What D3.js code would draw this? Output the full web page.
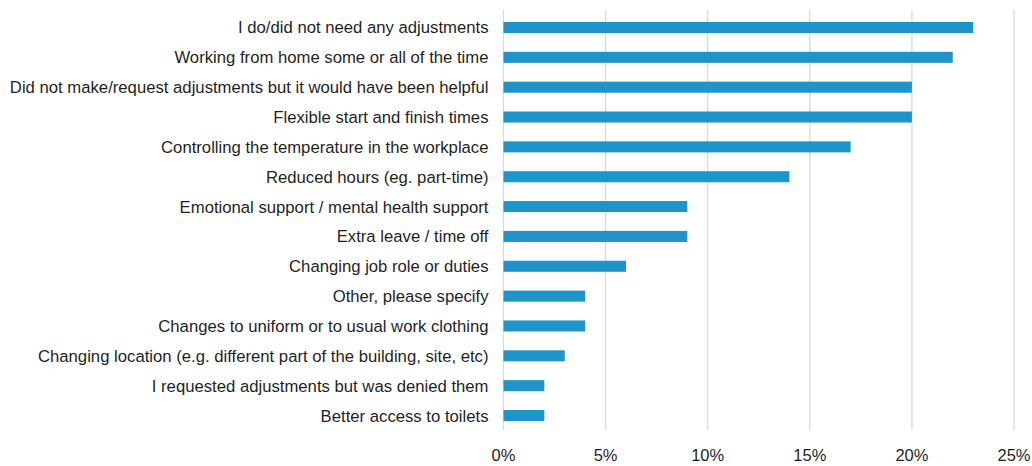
<!DOCTYPE html>
<html>
<head>
<meta charset="utf-8">
<script src="https://cdn.jsdelivr.net/npm/d3@7"></script>
<style>
  body { margin: 0; background: #fff; overflow: hidden; }
  svg { display: block; }
  svg text { font-family: "Liberation Sans", Arial, sans-serif; fill: #1f1f1f; }
</style>
</head>
<body>
<div id="chart"></div>
<script>
// categories top to bottom
var categories = [
  "I do/did not need any adjustments",
  "Working from home some or all of the time",
  "Did not make/request adjustments but it would have been helpful",
  "Flexible start and finish times",
  "Controlling the temperature in the workplace",
  "Reduced hours (eg. part-time)",
  "Emotional support / mental health support",
  "Extra leave / time off",
  "Changing job role or duties",
  "Other, please specify",
  "Changes to uniform or to usual work clothing",
  "Changing location (e.g. different part of the building, site, etc)",
  "I requested adjustments but was denied them",
  "Better access to toilets"
];
var values = [23, 22, 20, 20, 17, 14, 9, 9, 6, 4, 4, 3, 2, 2];
var ticks = [0, 5, 10, 15, 20, 25];

var width = 1032, height = 466;
var margin = {top: 13, right: 18, bottom: 36, left: 503.5};

var svg = d3.select('#chart').append('svg')
  .attr('width', width)
  .attr('height', height);

var x = d3.scaleLinear().domain([0, 25]).range([margin.left, width - margin.right]);
var y = d3.scaleBand().domain(categories)
  .range([margin.top, height - margin.bottom])
  .paddingInner(0.63).paddingOuter(0.3);

// gridlines
svg.append('g').selectAll('line')
  .data(ticks)
  .enter().append('line')
  .attr('x1', function (d) { return x(d); })
  .attr('x2', function (d) { return x(d); })
  .attr('y1', 10)
  .attr('y2', 430)
  .attr('stroke', '#d9d9d9')
  .attr('stroke-width', 1.3);

// bars
svg.append('g').selectAll('rect')
  .data(values)
  .enter().append('rect')
  .attr('x', x(0))
  .attr('y', function (d, i) { return y(categories[i]); })
  .attr('width', function (d) { return x(d) - x(0); })
  .attr('height', y.bandwidth())
  .attr('fill', '#1e94c8');

// category labels
svg.append('g').selectAll('text')
  .data(categories)
  .enter().append('text')
  .attr('x', margin.left - 15)
  .attr('y', function (d) { return y(d) + y.bandwidth() / 2; })
  .attr('dy', '0.36em')
  .attr('text-anchor', 'end')
  .style('font-size', '16.7px')
  .text(function (d) { return d; });

// tick labels
svg.append('g').selectAll('text')
  .data(ticks)
  .enter().append('text')
  .attr('x', function (d) { return x(d); })
  .attr('y', 461)
  .attr('text-anchor', 'middle')
  .style('font-size', '16.5px')
  .text(function (d) { return d + '%'; });
</script>
</body>
</html>
